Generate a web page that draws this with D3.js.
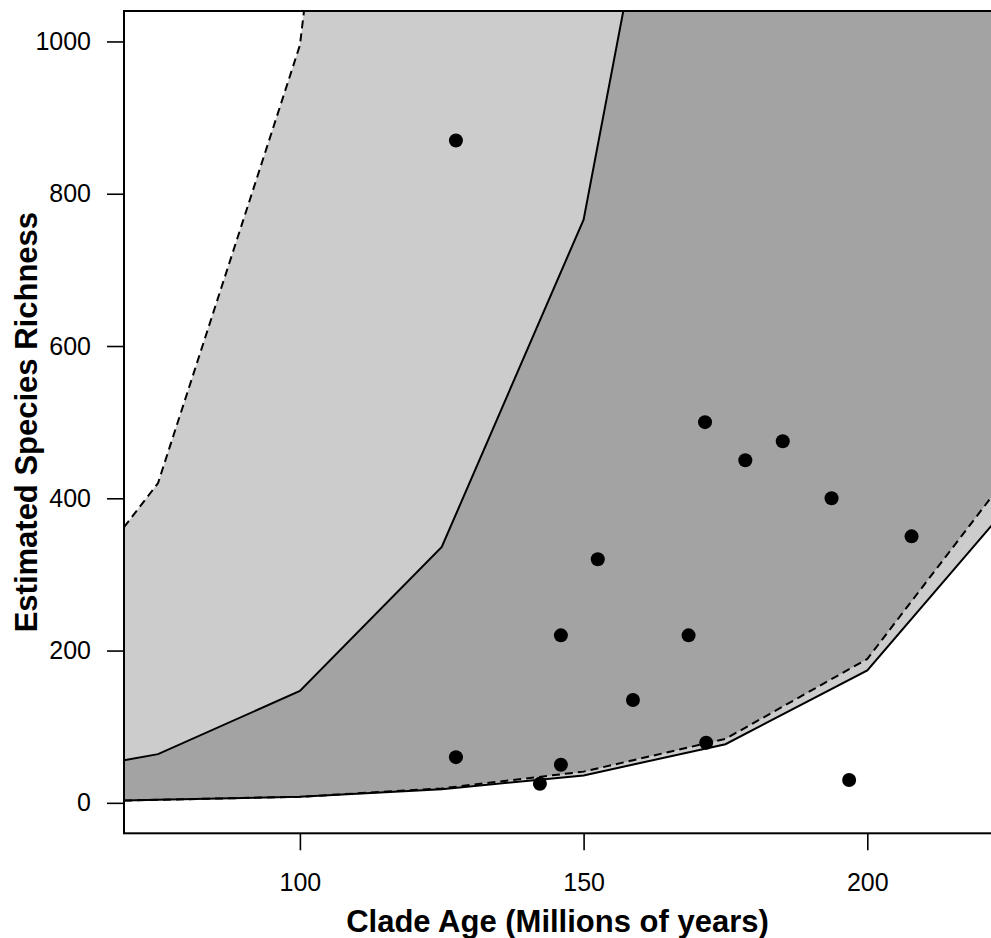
<!DOCTYPE html>
<html>
<head>
<meta charset="utf-8">
<script src="https://cdn.jsdelivr.net/npm/d3@7"></script>
<style>
  body { margin: 0; background: #fff; }
  text { font-family: "Liberation Sans", Arial, sans-serif; fill: #000; }
  .axis-title { font-size: 31px; font-weight: bold; }
</style>
</head>
<body>
<svg id="chart" width="991" height="938"></svg>
<script>
// DATA: envelope curves (ages in Myr, richness)
const ages = [69, 75, 100, 125, 150, 175, 200, 225];
// values past the top of the plot are rough guesses, they only get clipped
const upperDashed = [362, 420, 995, 2550, 6000, 12000, 20000, 30000];
const upperSolid  = [56, 64, 147, 336, 766, 1745, 3800, 7500];
const lowerDashed = [3, 4, 8, 19, 41, 84, 189, 432];
const lowerSolid  = [3, 4, 8, 18, 36, 77, 174, 391];

// observed clades
const cladeAge = [127.5, 127.5, 142.3, 146, 146, 152.5, 158.7, 168.5, 171.4, 171.6, 178.5, 185.1, 193.7, 196.8, 207.8];
const cladeRichness = [870, 60, 25, 220, 50, 320, 135, 220, 500, 79, 450, 475, 400, 30, 350];

const xTicks = [100, 150, 200];
const yTicks = [0, 200, 400, 600, 800, 1000];

// SETUP
const plot = { left: 124, top: 11, right: 992, bottom: 833.3 };
const svg = d3.select("#chart");

const x = d3.scaleLinear().domain([69, 221.8]).range([plot.left, plot.right - 1]);
const y = d3.scaleLinear().domain([-40, 1040]).range([plot.bottom, plot.top]);

svg.append("clipPath").attr("id", "clip")
  .append("rect")
  .attr("x", plot.left).attr("y", plot.top)
  .attr("width", plot.right - plot.left).attr("height", plot.bottom - plot.top);

const g = svg.append("g").attr("clip-path", "url(#clip)");

const rows = ages.map((a, i) => ({
  age: a, ud: upperDashed[i], us: upperSolid[i], ld: lowerDashed[i], ls: lowerSolid[i]
}));

// 1: polygons
const areaOf = (top, bottom) => d3.area()
  .x(d => x(d.age)).y1(d => y(d[top])).y0(d => y(d[bottom]));

g.append("path").datum(rows)
  .attr("d", areaOf("ud", "ls")).attr("fill", "#cccccc");
g.append("path").datum(rows)
  .attr("d", areaOf("us", "ld")).attr("fill", "#a3a3a3");

// 2: boundary lines
const lineOf = key => d3.line().x(d => x(d.age)).y(d => y(d[key]));
[["ud", "8,5"], ["us", null], ["ld", "8,5"], ["ls", null]].forEach(([k, dash]) => {
  g.append("path").datum(rows)
    .attr("d", lineOf(k))
    .attr("fill", "none")
    .attr("stroke", "#000")
    .attr("stroke-width", 2)
    .attr("stroke-dasharray", dash);
});

// 3: points
g.selectAll("circle")
  .data(cladeAge.map((a, i) => ({ age: a, rich: cladeRichness[i] })))
  .enter().append("circle")
  .attr("cx", d => x(d.age))
  .attr("cy", d => y(d.rich))
  .attr("r", 7)
  .attr("fill", "#000");

// 4: box
svg.append("rect")
  .attr("x", plot.left).attr("y", plot.top)
  .attr("width", plot.right - plot.left).attr("height", plot.bottom - plot.top)
  .attr("fill", "none").attr("stroke", "#000").attr("stroke-width", 2);

// 5: axes (R style, outward ticks)
const xAxis = svg.append("g")
  .attr("transform", `translate(0,${plot.bottom})`)
  .call(d3.axisBottom(x).tickValues(xTicks).tickFormat(d3.format("d"))
    .tickSize(17).tickPadding(23).tickSizeOuter(0));
const yAxis = svg.append("g")
  .attr("transform", `translate(${plot.left},0)`)
  .call(d3.axisLeft(y).tickValues(yTicks).tickFormat(d3.format("d"))
    .tickSize(17).tickPadding(16).tickSizeOuter(0));

[xAxis, yAxis].forEach(ax => {
  ax.attr("font-size", null).attr("font-family", null);
  ax.select(".domain").remove();
  ax.selectAll("line").attr("stroke", "#000").attr("stroke-width", 1.6);
  ax.selectAll("text")
    .style("font-size", "25px")
    .style("font-family", "'Liberation Sans', Arial, sans-serif")
    .attr("fill", "#000");
});

// 6: titles
svg.append("text")
  .attr("class", "axis-title")
  .attr("text-anchor", "middle")
  .attr("x", (plot.left + 991) / 2)
  .attr("y", 932)
  .text("Clade Age (Millions of years)");

svg.append("text")
  .attr("class", "axis-title")
  .attr("text-anchor", "middle")
  .attr("transform", `translate(37,${(plot.top + plot.bottom) / 2}) rotate(-90)`)
  .text("Estimated Species Richness");
</script>
</body>
</html>
